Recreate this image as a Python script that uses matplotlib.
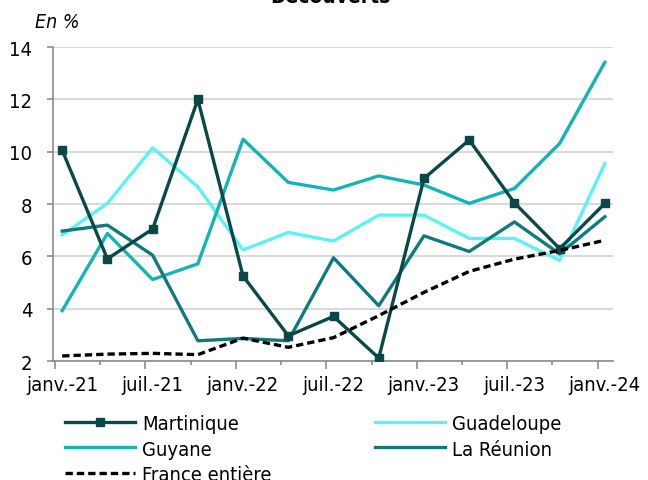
import matplotlib
matplotlib.use("Agg")
import matplotlib.pyplot as plt
import matplotlib.transforms as mtransforms
import numpy as np

plt.rcParams["font.family"] = ["DejaVu Sans"]
plt.rcParams["font.stretch"] = "condensed"

quarters = ["janv.-21", "avr.-21", "juil.-21", "oct.-21", "janv.-22", "avr.-22", "juil.-22",
            "oct.-22", "janv.-23", "avr.-23", "juil.-23", "oct.-23", "janv.-24"]
martinique = [10.06, 5.91, 7.05, 12.0, 5.25, 2.97, 3.71, 2.12, 8.98, 10.45, 8.05, 6.3, 8.03]
guadeloupe = [6.82, 8.03, 10.15, 8.66, 6.25, 6.92, 6.59, 7.58, 7.58, 6.69, 6.69, 5.85, 9.55]
guyane = [3.93, 6.88, 5.12, 5.72, 10.48, 8.83, 8.54, 9.08, 8.73, 8.03, 8.6, 10.32, 13.42]
reunion = [6.97, 7.2, 6.05, 2.78, 2.87, 2.78, 5.95, 4.12, 6.79, 6.19, 7.32, 6.1, 7.52]
france = [2.2, 2.27, 2.3, 2.25, 2.88, 2.53, 2.9, 3.74, 4.63, 5.43, 5.9, 6.23, 6.62]

c_mart = "#0A4848"
c_guad = "#5CF2F4"
c_guy = "#14B4B6"
c_reu = "#107A7A"

fig = plt.figure(figsize=(6.48, 4.81), dpi=100)
ax = fig.add_axes([0.082, 0.247, 0.864, 0.653])
x = np.arange(len(quarters))
lw = 2.4

l_m, = ax.plot(x, martinique, color=c_mart, lw=lw, marker="s", ms=6, label="Martinique", zorder=5)
l_guad, = ax.plot(x, guadeloupe, color=c_guad, lw=lw, label="Guadeloupe", zorder=3)
l_guy, = ax.plot(x, guyane, color=c_guy, lw=lw, label="Guyane", zorder=3)
l_r, = ax.plot(x, reunion, color=c_reu, lw=lw, label="La Réunion", zorder=4)
l_f, = ax.plot(x, france, color="black", lw=2.4, ls=(0, (2.2, 1.2)), label="France entière", zorder=6)

ax.set_ylim(2, 14)
ax.set_yticks(np.arange(2, 15, 2))
ax.set_xlim(-0.2, 12.18)
ax.yaxis.grid(True, color="#D9D9D9", lw=1.5)
ax.set_axisbelow(True)
for s in ["top", "right"]:
    ax.spines[s].set_visible(False)
ax.spines["left"].set_color("#8C8C8C")
ax.spines["bottom"].set_color("#8C8C8C")
ax.spines["left"].set_linewidth(1.2)
ax.spines["bottom"].set_linewidth(1.2)

off = 0.16
ax.set_xticks(x[::2] - off)
ax.set_xticklabels(quarters[::2])
ax.set_xticks(x[1::2] - off, minor=True)
ax.tick_params(axis="x", which="major", length=6, width=1.2, color="#8C8C8C", labelsize=14.5, pad=4)
ax.tick_params(axis="x", which="minor", length=3, width=1.2, color="#8C8C8C")
ax.tick_params(axis="y", length=4, width=1.2, color="#8C8C8C", labelsize=14.5, pad=11)
shift = mtransforms.ScaledTranslation(7 / 100, 0, fig.dpi_scale_trans)
for lab in ax.get_xticklabels():
    lab.set_transform(lab.get_transform() + shift)

fig.text(0.51, 0.994, "Découverts", ha="center", va="baseline", fontsize=15, fontweight="bold")
fig.text(0.054, 0.953, "En %", ha="left", va="center", fontsize=14, style="italic")

fig.legend(handles=[l_m, l_guy, l_f, l_guad, l_r], loc="upper left",
           bbox_to_anchor=(0.1, 0.137), ncol=2, frameon=False, fontsize=14.5,
           handlelength=3.5, handletextpad=0.35, columnspacing=5.1, labelspacing=0.32,
           borderaxespad=0, borderpad=0)

fig.savefig("out.png", dpi=100)
